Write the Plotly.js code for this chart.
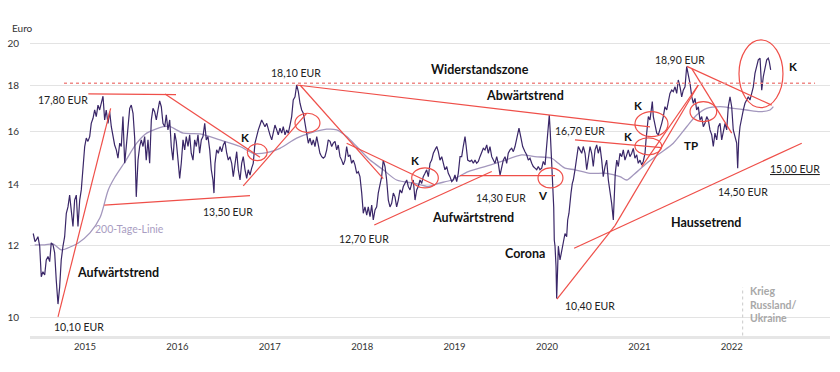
<!DOCTYPE html>
<html><head><meta charset="utf-8">
<script src="https://cdn.plot.ly/plotly-3.0.1.min.js"></script>
<style>html,body{margin:0;padding:0;background:#fff}#chart{width:840px;height:372px}</style>
</head><body><div id="chart"></div>
<script>
// ---------- axis ticks ----------
const yearTicks = [2015, 2016, 2017, 2018, 2019, 2020, 2021, 2022];
const yearLabels = ['2015', '2016', '2017', '2018', '2019', '2020', '2021', '2022'];
const priceTicks = [10, 12, 14, 16, 18, 20];
const priceTickLabels = ['10', '12', '14', '16', '18', '20'];

// ---------- share price (decimal year, EUR) ----------
const priceT = [
2014.440,2014.459,2014.473,2014.491,2014.510,2014.527,2014.545,2014.564,2014.581,2014.600,
2014.618,2014.635,2014.654,2014.672,2014.689,2014.708,2014.726,2014.743,2014.762,2014.780,
2014.798,2014.816,2014.834,2014.852,2014.870,2014.888,2014.906,2014.924,2014.943,2014.960,
2014.978,2014.997,2015.014,2015.032,2015.051,2015.068,2015.087,2015.105,2015.122,2015.141,
2015.159,2015.176,2015.195,2015.213,2015.230,2015.249,2015.267,2015.285,2015.303,2015.321,
2015.339,2015.357,2015.376,2015.393,2015.411,2015.430,2015.447,2015.465,2015.484,2015.501,
2015.520,2015.538,2015.555,2015.574,2015.592,2015.609,2015.628,2015.646,2015.663,2015.682,
2015.700,2015.718,2015.736,2015.754,2015.772,2015.790,2015.808,2015.826,2015.844,2015.863,
2015.880,2015.898,2015.917,2015.934,2015.952,2015.971,2015.988,2016.007,2016.025,2016.042,
2016.061,2016.079,2016.096,2016.115,2016.133,2016.150,2016.169,2016.187,2016.205,2016.223,
2016.241,2016.259,2016.277,2016.296,2016.313,2016.331,2016.350,2016.367,2016.385,2016.396,
2016.407,2016.425,2016.443,2016.461,2016.480,2016.497,2016.515,2016.534,2016.551,2016.569,
2016.588,2016.605,2016.623,2016.642,2016.659,2016.678,2016.696,2016.713,2016.732,2016.750,
2016.767,2016.786,2016.804,2016.821,2016.840,2016.858,2016.876,2016.894,2016.912,2016.930,
2016.948,2016.967,2016.984,2017.002,2017.021,2017.038,2017.056,2017.075,2017.092,2017.110,
2017.129,2017.146,2017.165,2017.183,2017.200,2017.219,2017.237,2017.254,2017.273,2017.291,
2017.309,2017.327,2017.345,2017.363,2017.381,2017.399,2017.417,2017.435,2017.454,2017.471,
2017.489,2017.508,2017.525,2017.543,2017.562,2017.579,2017.597,2017.616,2017.633,2017.652,
2017.670,2017.687,2017.706,2017.724,2017.741,2017.760,2017.778,2017.796,2017.814,2017.832,
2017.850,2017.868,2017.886,2017.904,2017.922,2017.941,2017.958,2017.976,2017.995,2018.012,
2018.030,2018.049,2018.066,2018.085,2018.103,2018.120,2018.139,2018.157,2018.174,2018.193,
2018.211,2018.228,2018.247,2018.265,2018.283,2018.301,2018.319,2018.337,2018.355,2018.373,
2018.391,2018.409,2018.428,2018.445,2018.463,2018.482,2018.499,2018.518,2018.536,2018.553,
2018.572,2018.590,2018.607,2018.626,2018.644,2018.661,2018.680,2018.698,2018.716,2018.734,
2018.752,2018.770,2018.788,2018.807,2018.824,2018.842,2018.861,2018.878,2018.896,2018.915,
2018.932,2018.950,2018.969,2018.986,2019.004,2019.023,2019.040,2019.059,2019.077,2019.094,
2019.113,2019.124,2019.142,2019.167,2019.185,2019.203,2019.221,2019.239,2019.257,2019.275,
2019.293,2019.311,2019.329,2019.348,2019.365,2019.383,2019.402,2019.419,2019.437,2019.456,
2019.473,2019.492,2019.510,2019.527,2019.546,2019.564,2019.581,2019.600,2019.618,2019.636,
2019.654,2019.672,2019.697,2019.719,2019.737,2019.762,2019.780,2019.798,2019.816,2019.835,
2019.852,2019.870,2019.889,2019.906,2019.924,2019.943,2019.960,2019.979,2019.997,2020.014,
2020.025,2020.036,2020.051,2020.062,2020.073,2020.079,2020.087,2020.098,2020.105,2020.116,
2020.123,2020.141,2020.159,2020.177,2020.195,2020.213,2020.224,2020.238,2020.249,2020.260,
2020.274,2020.285,2020.303,2020.322,2020.339,2020.357,2020.376,2020.393,2020.412,2020.430,
2020.447,2020.466,2020.484,2020.501,2020.520,2020.538,2020.555,2020.574,2020.592,2020.609,
2020.628,2020.646,2020.664,2020.682,2020.700,2020.718,2020.728,2020.739,2020.755,2020.772,
2020.790,2020.809,2020.826,2020.844,2020.863,2020.880,2020.898,2020.917,2020.934,2020.952,
2020.971,2020.988,2021.007,2021.025,2021.042,2021.061,2021.072,2021.086,2021.097,2021.115,
2021.126,2021.140,2021.151,2021.169,2021.188,2021.205,2021.223,2021.242,2021.259,2021.277,
2021.296,2021.313,2021.331,2021.350,2021.367,2021.386,2021.404,2021.421,2021.440,2021.458,
2021.475,2021.494,2021.512,2021.530,2021.548,2021.567,2021.584,2021.602,2021.620,2021.638,
2021.656,2021.675,2021.692,2021.710,2021.729,2021.746,2021.764,2021.783,2021.800,2021.818,
2021.837,2021.854,2021.873,2021.891,2021.908,2021.927,2021.945,2021.962,2021.981,2021.999,
2022.016,2022.035,2022.053,2022.064,2022.075,2022.089,2022.107,2022.125,2022.143,2022.161,
2022.179,2022.197,2022.215,2022.233,2022.251,2022.269,2022.287,2022.306,2022.324,2022.341,
2022.360,2022.378,2022.395,2022.406,2022.421];
const priceV = [
12.37,12.12,12.17,12.27,11.98,11.09,11.23,11.14,11.57,11.67,
11.52,12.08,12.02,11.78,11.00,10.35,10.81,11.57,11.98,12.27,
13.02,13.23,13.63,13.03,12.59,13.46,13.63,12.59,13.46,13.81,
14.77,15.41,15.74,15.61,15.80,16.34,16.55,16.90,16.62,17.11,
16.90,17.26,17.50,16.48,16.90,16.34,16.83,16.20,15.80,15.47,
15.28,14.96,15.54,15.41,16.62,14.77,15.41,16.34,16.97,17.11,
16.76,15.74,13.57,14.89,15.41,15.67,15.41,15.80,14.89,15.67,
14.77,16.48,16.97,16.83,16.48,16.90,17.29,17.04,16.34,16.20,
16.69,16.07,16.48,15.41,14.89,15.94,15.61,14.89,14.22,14.77,
15.67,15.28,15.80,15.41,15.87,15.15,14.89,15.67,15.41,15.87,
15.15,15.67,15.80,16.34,15.67,15.80,15.28,14.53,14.16,13.70,
14.77,15.28,15.15,15.41,15.21,15.47,15.61,15.15,14.89,15.02,
14.77,14.28,14.65,15.21,14.53,14.16,14.77,15.02,14.53,14.22,
14.53,14.34,14.59,14.77,15.54,15.87,16.07,16.27,16.48,16.34,
16.20,16.34,16.07,15.87,15.67,15.94,16.27,16.07,15.87,16.14,
15.94,16.20,15.87,16.07,15.94,16.27,16.62,17.33,17.47,18.00,
17.70,17.19,16.90,16.76,16.34,16.00,15.54,15.74,15.47,15.67,
15.41,15.80,15.41,15.15,15.02,14.96,15.02,15.28,15.67,15.61,
15.41,15.54,15.61,15.28,15.47,15.02,14.89,14.71,14.89,15.41,
15.02,15.09,14.77,14.89,14.71,14.40,14.46,14.28,13.70,13.02,
13.23,12.96,13.23,12.91,13.29,12.80,13.13,13.23,13.70,14.04,
14.28,14.89,14.65,14.16,13.46,13.23,13.35,13.70,13.57,13.23,
13.46,13.81,13.70,13.93,14.04,14.16,13.93,13.81,14.04,14.16,
13.46,13.81,13.93,14.16,14.04,14.28,14.40,14.53,14.28,14.77,
14.89,15.15,15.28,15.41,15.21,14.89,15.02,14.77,14.53,14.65,
14.40,14.28,14.10,14.16,14.34,14.10,14.40,15.02,15.02,15.41,
15.80,15.47,14.89,14.84,14.89,14.77,14.89,14.77,14.84,15.02,
15.15,15.34,15.28,15.47,15.15,15.41,15.02,14.89,14.77,15.02,
14.77,14.34,14.65,14.89,15.02,14.77,15.15,15.28,15.34,15.21,
15.41,15.74,16.14,15.74,15.41,15.21,15.09,14.89,14.96,14.77,
14.65,14.59,14.53,14.65,14.53,14.59,14.84,14.71,15.41,16.07,
16.69,15.94,14.65,14.28,13.23,12.17,11.98,11.38,10.50,11.38,
11.98,11.57,11.87,12.07,12.37,12.27,12.80,13.02,13.46,13.70,
14.04,14.16,14.53,15.02,15.41,15.28,15.15,15.41,15.15,14.53,
14.89,15.41,15.15,14.65,15.28,15.47,15.15,15.41,14.89,14.28,
14.65,14.89,14.16,13.81,13.35,12.80,13.57,14.40,14.89,14.65,
15.15,15.02,15.28,14.89,15.09,15.28,15.02,15.15,15.34,14.96,
15.09,14.77,14.89,14.71,14.84,15.15,15.67,16.34,16.62,16.48,
16.83,17.26,16.62,16.20,15.94,15.87,16.07,16.34,16.62,17.04,
16.90,17.33,17.62,17.77,17.70,17.92,17.62,18.23,17.92,17.47,
17.77,17.92,18.86,18.46,18.08,17.47,17.19,17.40,16.90,17.04,
16.48,16.62,16.20,16.34,16.62,16.48,16.07,15.87,15.41,15.94,
15.67,16.20,16.34,15.67,16.07,16.34,16.07,17.04,17.47,17.04,
16.07,15.80,15.54,14.59,15.67,16.20,16.62,16.90,17.19,17.33,
17.47,17.33,17.62,17.92,18.54,18.86,19.18,19.26,17.77,18.38,
18.86,19.18,19.26,19.10,18.70];

// ---------- 200-day moving average ----------
const maT = [2014.456,2014.564,2014.654,2014.743,2014.852,2014.924,2015.054,2015.162,2015.252,2015.321,
2015.430,2015.560,2015.668,2015.847,2015.920,2016.064,2016.245,2016.461,2016.678,2016.821,
2016.967,2017.110,2017.291,2017.435,2017.616,2017.724,2017.832,2017.941,2018.085,2018.228,
2018.373,2018.572,2018.716,2018.824,2018.969,2019.148,2019.329,2019.510,2019.726,2019.870,
2020.051,2020.123,2020.195,2020.303,2020.466,2020.646,2020.790,2020.863,2020.934,2021.079,
2021.223,2021.367,2021.512,2021.620,2021.729,2021.873,2022.016,2022.161,2022.306,2022.414,2022.450];
const maV = [12.02,12.02,12.05,11.87,11.97,12.07,12.39,12.87,13.81,14.25,
14.81,15.54,15.94,16.20,16.20,15.94,15.91,15.67,15.41,15.15,
15.17,15.34,15.74,15.94,16.10,16.07,15.80,15.41,14.89,14.53,
14.16,14.04,13.93,14.04,14.16,14.46,14.65,14.84,15.09,15.02,
14.96,14.77,14.59,14.53,14.40,14.40,14.28,14.16,14.34,14.77,
15.15,15.54,16.20,16.69,16.97,17.04,16.97,16.90,16.83,16.90,17.04];

// ---------- drawn trend lines [t0, p0, t1, p1] ----------
const trendLines = [
  [2014.708, 10.02, 2015.278, 16.97],
  [2015.036, 17.60, 2015.985, 17.57],
  [2015.866, 17.60, 2016.894, 15.00],
  [2015.209, 13.29, 2016.786, 13.61],
  [2016.713, 13.95, 2017.399, 16.76],
  [2017.291, 18.00, 2021.115, 16.19],
  [2017.327, 18.00, 2018.228, 14.21],
  [2017.832, 15.54, 2018.788, 13.98],
  [2018.131, 12.64, 2019.402, 14.47],
  [2019.059, 14.32, 2020.087, 14.32],
  [2020.108, 10.48, 2020.736, 12.62],
  [2020.736, 12.62, 2021.638, 18.00],
  [2020.294, 11.92, 2022.757, 15.54],
  [2020.303, 15.67, 2021.242, 15.37],
  [2021.515, 18.87, 2022.432, 17.11],
  [2021.569, 18.75, 2021.999, 15.94],
  [2021.025, 14.65, 2021.638, 18.00]
];
// resistance zone (dotted)
const resistanceLevel = 18.08;
const resistanceFrom = 2014.773;
const resistanceTo = 2022.901;
// circles [t0, t1, pLow, pHigh]
const circles = [
  [2016.757, 2016.973, 14.87, 15.51],
  [2017.273, 2017.543, 15.96, 16.76],
  [2018.536, 2018.824, 13.88, 14.60],
  [2019.903, 2020.173, 13.88, 14.60],
  [2020.952, 2021.310, 15.80, 16.83],
  [2020.952, 2021.242, 15.09, 15.75],
  [2021.548, 2021.837, 16.41, 17.26],
  [2022.078, 2022.554, 17.00, 20.17]
];
// war marker
const warDate = 2022.118;
const warFrom = 9.56, warTo = 10.80;

// ---------- labels ----------
const eurLabels = ['17,80 EUR','18,10 EUR','16,70 EUR','18,90 EUR','13,50 EUR','10,10 EUR','12,70 EUR','14,30 EUR','10,40 EUR','14,50 EUR'];
const eurLabelT = [2014.762, 2017.289, 2020.352, 2021.443, 2016.548, 2014.930, 2018.020, 2019.502, 2020.466, 2022.116];
const eurLabelP = [17.31, 18.57, 16.04, 19.18, 13.05, 9.77, 12.20, 13.52, 10.30, 13.73];
const boldLabels = ['Widerstandszone','Abwärtstrend','Aufwärtstrend','Aufwärtstrend','Corona','Haussetrend'];
const boldLabelT = [2019.275, 2019.762, 2015.357, 2019.199, 2019.757, 2021.721];
const boldLabelP = [18.70, 17.52, 11.21, 12.88, 11.75, 12.72];
const markLabels = ['K','K','K','K','K','TP','V'];
const markLabelT = [2016.732, 2018.572, 2020.982, 2020.880, 2022.666, 2021.558, 2019.960];
const markLabelP = [15.78, 14.86, 17.08, 15.80, 18.86, 15.44, 13.61];
const targetLabel = '15,00 EUR', targetT = 2022.679, targetP = 14.55;
const maLabel = '200-Tage-Linie', maLabelT = 2015.482, maLabelP = 12.52;
const warLabel = 'Krieg<br>Russland/<br>Ukraine', warLabelT = 2022.176, warLabelP = 10.33;

// ---------- build ----------
const FONT = 'Lato, "Noto Sans", sans-serif';
const RED = '#ef4f49';

const shapes = [];
trendLines.forEach(l => shapes.push({type:'line', xref:'x', yref:'y', x0:l[0], y0:l[1], x1:l[2], y1:l[3], line:{color:RED, width:1.2}, layer:'above'}));
shapes.push({type:'line', xref:'x', yref:'y', x0:resistanceFrom, x1:resistanceTo, y0:resistanceLevel, y1:resistanceLevel, line:{color:'#f08a87', width:1.6, dash:'dot'}});
circles.forEach(c => shapes.push({type:'circle', xref:'x', yref:'y', x0:c[0], x1:c[1], y0:c[2], y1:c[3], line:{color:RED, width:1.2}, layer:'above'}));
shapes.push({type:'line', xref:'x', yref:'y', x0:warDate, x1:warDate, y0:warFrom, y1:warTo, line:{color:'#c9c9c9', width:1, dash:'dot'}});

const L = Math.log10;
const ann = [];
eurLabels.forEach((t,i) => ann.push({x:eurLabelT[i], y:L(eurLabelP[i]), text:t, showarrow:false, font:{family:FONT, size:10.5, color:'#222'}}));
boldLabels.forEach((t,i) => ann.push({x:boldLabelT[i], y:L(boldLabelP[i]), text:'<b>'+t+'</b>', showarrow:false, font:{family:FONT, size:12.5, color:'#111'}}));
markLabels.forEach((t,i) => ann.push({x:markLabelT[i], y:L(markLabelP[i]), text:'<b>'+t+'</b>', showarrow:false, font:{family:FONT, size:11.5, color:'#111'}}));
ann.push({x:targetT, y:L(targetP), text:'<span style="text-decoration:underline">'+targetLabel+'</span>', showarrow:false, font:{family:FONT, size:10.5, color:'#222'}});
ann.push({x:maLabelT, y:L(maLabelP), text:maLabel, showarrow:false, font:{family:FONT, size:10.5, color:'#a99dc2'}});
ann.push({x:warLabelT, y:L(warLabelP), text:'<b>'+warLabel+'</b>', showarrow:false, xanchor:'left', align:'left', font:{family:FONT, size:10.5, color:'#a8a8a8'}});
ann.push({xref:'paper', yref:'paper', x:-0.025, y:1.022, xanchor:'left', yanchor:'middle', text:'Euro', showarrow:false, font:{family:FONT, size:10, color:'#333'}});

const traces = [
  {x:maT, y:maV, type:'scatter', mode:'lines', line:{color:'#a397bd', width:1.3, shape:'spline', smoothing:0.8}, hoverinfo:'skip'},
  {x:priceT, y:priceV, type:'scatter', mode:'lines', line:{color:'#3a2768', width:1.2}, hoverinfo:'skip'}
];

const layout = {
  width:840, height:372,
  margin:{l:30, r:10, t:35, b:36},
  paper_bgcolor:'#fff', plot_bgcolor:'#fff',
  showlegend:false,
  font:{family:FONT, color:'#333'},
  xaxis:{range:[2014.405, 2023.063], tickvals:yearTicks, ticktext:yearLabels, showgrid:false, zeroline:false,
         showline:true, linecolor:'#e6e6e6', linewidth:3, ticks:'', tickfont:{family:FONT, size:9.5, color:'#333'}},
  yaxis:{type:'log', range:[0.97992, 1.31015], tickvals:priceTicks, ticktext:priceTickLabels, showgrid:true,
         gridcolor:'#e3e3e3', gridwidth:1, zeroline:false, showline:false, ticks:'outside', ticklen:8,
         tickcolor:'rgba(0,0,0,0)', tickfont:{family:FONT, size:10, color:'#333'}},
  shapes:shapes,
  annotations:ann
};
Plotly.newPlot('chart', traces, layout, {staticPlot:true});
</script>
</body></html>
